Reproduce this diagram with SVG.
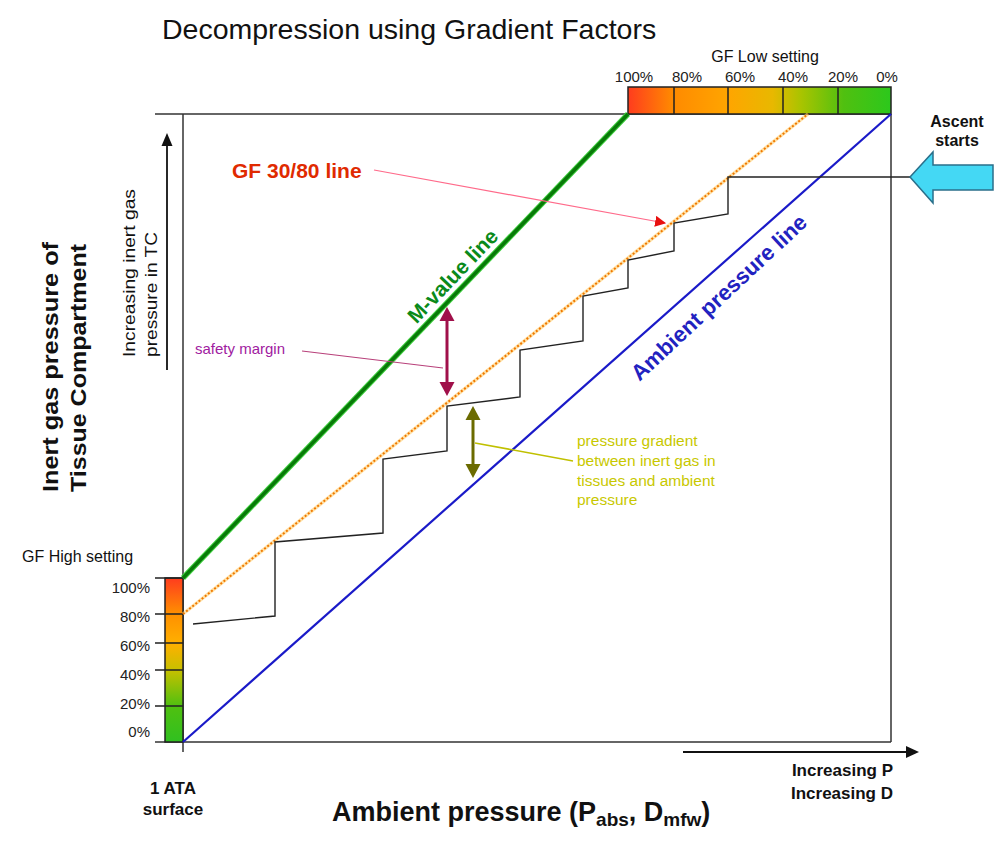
<svg xmlns="http://www.w3.org/2000/svg" width="1008" height="845" viewBox="0 0 1008 845">
<defs>
<style>
text{font-family:"Liberation Sans",Arial,sans-serif;fill:#111}
.b{font-weight:bold}
.frame{stroke:#333;stroke-width:1.5;fill:none}
.stair{stroke:#222;stroke-width:1.4;fill:none}
.pct{font-size:15px;fill:#222}
</style>
<linearGradient id="gLow" x1="0" y1="0" x2="1" y2="0">
<stop offset="0" stop-color="#ff3c1e"/>
<stop offset="0.17" stop-color="#ff8a00"/>
<stop offset="0.38" stop-color="#ffa500"/>
<stop offset="0.55" stop-color="#e8b800"/>
<stop offset="0.66" stop-color="#a8c400"/>
<stop offset="0.82" stop-color="#50c010"/>
<stop offset="1" stop-color="#2cc81c"/>
</linearGradient>
<linearGradient id="gHigh" x1="0" y1="0" x2="0" y2="1">
<stop offset="0" stop-color="#ff3c1e"/>
<stop offset="0.22" stop-color="#ff9000"/>
<stop offset="0.4" stop-color="#ffb000"/>
<stop offset="0.56" stop-color="#c8c000"/>
<stop offset="0.78" stop-color="#50c010"/>
<stop offset="1" stop-color="#30c020"/>
</linearGradient>
<marker id="redHead" viewBox="0 0 10 10" refX="9" refY="5" markerWidth="11" markerHeight="11" markerUnits="userSpaceOnUse" orient="auto">
<path d="M0,0 L10,5 L0,10 z" fill="#e81010"/>
</marker>
</defs>
<rect width="1008" height="845" fill="#fff"/>

<g id="title"><text x="162" y="39" style="font-size:28.5px">Decompression using Gradient Factors</text></g>

<g id="frame">
<line class="frame" x1="155" y1="114" x2="891" y2="114"/>
<line class="frame" x1="891" y1="114" x2="891" y2="742"/>
<line class="frame" x1="155" y1="742" x2="891" y2="742"/>
<line class="frame" x1="183" y1="114" x2="183" y2="752"/>
</g>

<g id="gf-low-bar">
<rect x="628" y="87" width="263" height="27" fill="url(#gLow)" stroke="#222" stroke-width="1.5"/>
<path d="M674,87V114M728,87V114M783,87V114M838,87V114" stroke="#222" stroke-width="1.5"/>
<text x="765" y="62" text-anchor="middle" style="font-size:16px">GF Low setting</text>
<text class="pct" x="634" y="82" text-anchor="middle">100%</text>
<text class="pct" x="687" y="82" text-anchor="middle">80%</text>
<text class="pct" x="740" y="82" text-anchor="middle">60%</text>
<text class="pct" x="793" y="82" text-anchor="middle">40%</text>
<text class="pct" x="843" y="82" text-anchor="middle">20%</text>
<text class="pct" x="887" y="82" text-anchor="middle">0%</text>
</g>

<g id="gf-high-bar">
<rect x="165" y="578" width="18" height="164" fill="url(#gHigh)" stroke="#222" stroke-width="1.5"/>
<path d="M155,578H183M155,614H183M155,643H183M155,670H183M155,706H183" stroke="#222" stroke-width="1.5"/>
<text x="22" y="562" style="font-size:16px">GF High setting</text>
<text class="pct" x="150" y="593" text-anchor="end">100%</text>
<text class="pct" x="150" y="622" text-anchor="end">80%</text>
<text class="pct" x="150" y="651" text-anchor="end">60%</text>
<text class="pct" x="150" y="680" text-anchor="end">40%</text>
<text class="pct" x="150" y="709" text-anchor="end">20%</text>
<text class="pct" x="150" y="737" text-anchor="end">0%</text>
</g>

<g id="m-value-line">
<line x1="183" y1="578" x2="628" y2="114" stroke="#3fcf3f" stroke-width="5.5"/>
<line x1="183" y1="578" x2="628" y2="114" stroke="#087a08" stroke-width="3.5"/>
<text class="b" transform="translate(458,281) rotate(-46.3)" text-anchor="middle" style="font-size:21px;fill:#0a8a1a">M-value line</text>
</g>

<g id="ambient-line">
<line x1="183" y1="742" x2="891" y2="114" stroke="#1a1ac8" stroke-width="2.2"/>
<text class="b" transform="translate(724,303) rotate(-43)" text-anchor="middle" style="font-size:22px;fill:#2222c0">Ambient pressure line</text>
</g>

<g id="gf-line">
<line x1="183" y1="614" x2="808" y2="114" stroke="#ffd070" stroke-width="3.5" opacity="0.6"/>
<line x1="183" y1="614" x2="808" y2="114" stroke="#f07800" stroke-width="2" stroke-dasharray="2 2"/>
<text class="b" x="232" y="178" style="font-size:21px;fill:#e02a00">GF 30/80 line</text>
</g>

<g id="connectors">
<path class="stair" d="M910,177 H728 V214 L674,223 V251 L628,260 V288 L583,296 V341 L520,350 V397 L447,406 V451 L383,459 V533 L275,542 V616 L193,624"/>
<line x1="374" y1="170" x2="665" y2="223" stroke="#ff6a8a" stroke-width="1.2" marker-end="url(#redHead)"/>
<line x1="302" y1="351" x2="443" y2="368" stroke="#b8407a" stroke-width="1.2"/>
<line x1="475" y1="443" x2="573" y2="461" stroke="#c0c000" stroke-width="1.6"/>
<line x1="167" y1="370" x2="167" y2="142" stroke="#111" stroke-width="1.8"/>
<polygon points="167,133 161.5,146 172.5,146" fill="#111"/>
<line x1="683" y1="752" x2="908" y2="752" stroke="#111" stroke-width="2.2"/>
<polygon points="919,752 906,746 906,758" fill="#111"/>
</g>

<g id="safety-margin">
<line x1="447" y1="318" x2="447" y2="385" stroke="#a0104a" stroke-width="3"/>
<polygon points="447,307 439.5,321 454.5,321" fill="#a0104a"/>
<polygon points="447,396 439.5,382 454.5,382" fill="#a0104a"/>
<text x="195" y="354" style="font-size:15px;fill:#a020a0">safety margin</text>
</g>

<g id="pressure-gradient">
<line x1="473" y1="417" x2="473" y2="467" stroke="#6b6b00" stroke-width="3"/>
<polygon points="473,406 465.5,420 480.5,420" fill="#6b6b00"/>
<polygon points="473,478 465.5,464 480.5,464" fill="#6b6b00"/>
<text x="577" y="446" style="font-size:15.5px;fill:#c8c800">pressure gradient</text>
<text x="577" y="466" style="font-size:15.5px;fill:#c8c800">between inert gas in</text>
<text x="577" y="486" style="font-size:15.5px;fill:#c8c800">tissues and ambient</text>
<text x="577" y="505" style="font-size:15.5px;fill:#c8c800">pressure</text>
</g>

<g id="ascent-arrow">
<polygon points="910,177 933,152 933,165 993,165 993,190 933,190 933,203" fill="#44d8f4" stroke="#2a6f8a" stroke-width="1.5"/>
<text class="b" x="957" y="127" text-anchor="middle" style="font-size:16px">Ascent</text>
<text class="b" x="957" y="146" text-anchor="middle" style="font-size:16px">starts</text>
</g>

<g id="y-axis-labels">
<text class="b" transform="translate(58,492) rotate(-90)" textLength="250" lengthAdjust="spacingAndGlyphs" style="font-size:22px">Inert gas pressure of</text>
<text class="b" transform="translate(86,492) rotate(-90)" textLength="248" lengthAdjust="spacingAndGlyphs" style="font-size:22px">Tissue Compartment</text>
<text transform="translate(135,357) rotate(-90)" textLength="168" lengthAdjust="spacingAndGlyphs" style="font-size:16.5px">Increasing inert gas</text>
<text transform="translate(157,357) rotate(-90)" textLength="125" lengthAdjust="spacingAndGlyphs" style="font-size:16.5px">pressure in TC</text>
</g>

<g id="x-axis-labels">
<text class="b" x="173" y="794" text-anchor="middle" style="font-size:17px">1 ATA</text>
<text class="b" x="173" y="815" text-anchor="middle" style="font-size:17px">surface</text>
<text class="b" x="893" y="776" text-anchor="end" style="font-size:17px">Increasing P</text>
<text class="b" x="893" y="799" text-anchor="end" style="font-size:17px">Increasing D</text>
<text class="b" x="332" y="821" style="font-size:27px">Ambient pressure (P<tspan dy="5" style="font-size:19px">abs</tspan><tspan dy="-5">, D</tspan><tspan dy="5" style="font-size:19px">mfw</tspan><tspan dy="-5">)</tspan></text>
</g>
</svg>
